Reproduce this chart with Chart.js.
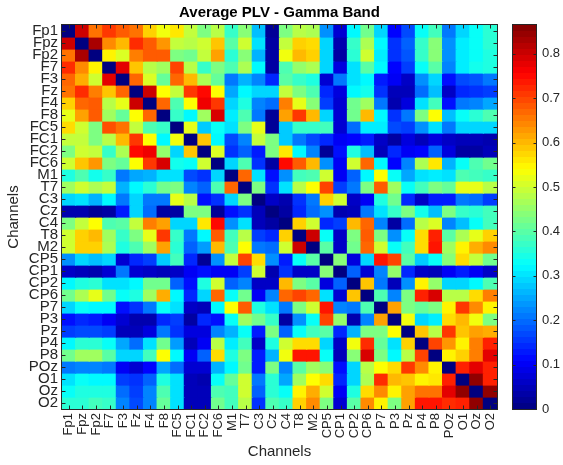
<!DOCTYPE html>
<html><head><meta charset="utf-8">
<script src="https://cdn.jsdelivr.net/npm/chart.js@4/dist/chart.umd.min.js"></script>
<style>
html,body{margin:0;padding:0;background:#fff;}
#wrap{position:relative;width:563px;height:465px;}
canvas{position:absolute;left:0;top:0;}
</style>
</head><body>
<div id="wrap"><canvas id="main" width="563" height="465"></canvas><canvas id="cbar" width="563" height="465"></canvas></div>
<script>
const CHANNELS = ['Fp1','Fpz','Fp2','F7','F3','Fz','F4','F8','FC5','FC1','FC2','FC6','M1','T7','C3','Cz','C4','T8','M2','CP5','CP1','CP2','CP6','P7','P3','Pz','P4','P8','POz','O1','Oz','O2'];

const row_Fp1 = [0,0.80,0.66,0.71,0.68,0.66,0.58,0.53,0.56,0.49,0.43,0.48,0.37,0.44,0.27,0.02,0.43,0.48,0.47,0.23,0.07,0.32,0.42,0.29,0.11,0.17,0.33,0.38,0.21,0.29,0.33,0.36];
const row_Fpz = [0.80,0,0.83,0.64,0.60,0.72,0.68,0.63,0.49,0.48,0.50,0.59,0.40,0.50,0.30,0.03,0.49,0.58,0.57,0.29,0.04,0.37,0.47,0.32,0.15,0.19,0.37,0.44,0.23,0.31,0.33,0.36];
const row_Fp2 = [0.66,0.83,0,0.55,0.51,0.65,0.68,0.68,0.43,0.42,0.49,0.62,0.36,0.44,0.26,0.03,0.53,0.60,0.58,0.29,0.03,0.36,0.50,0.31,0.15,0.18,0.37,0.44,0.23,0.31,0.33,0.35];
const row_F7  = [0.72,0.64,0.55,0,0.78,0.59,0.48,0.46,0.70,0.48,0.37,0.43,0.39,0.47,0.32,0.03,0.39,0.45,0.47,0.29,0.08,0.30,0.40,0.32,0.11,0.16,0.33,0.40,0.22,0.31,0.34,0.35];
const row_F3  = [0.67,0.61,0.50,0.78,0,0.67,0.51,0.41,0.67,0.60,0.47,0.41,0.21,0.26,0.22,0.14,0.40,0.37,0.35,0.07,0.21,0.30,0.32,0.13,0.10,0.06,0.23,0.29,0.12,0.17,0.18,0.21];
const row_Fz  = [0.66,0.72,0.65,0.59,0.67,0,0.80,0.54,0.49,0.71,0.75,0.54,0.25,0.32,0.29,0.29,0.49,0.43,0.39,0.14,0.08,0.32,0.34,0.15,0.05,0.05,0.20,0.27,0.06,0.14,0.15,0.16];
const row_F4  = [0.58,0.67,0.68,0.48,0.52,0.80,0,0.67,0.39,0.54,0.77,0.71,0.29,0.35,0.22,0.20,0.65,0.52,0.44,0.16,0.07,0.42,0.46,0.21,0.04,0.08,0.30,0.38,0.12,0.21,0.22,0.25];
const row_F8  = [0.52,0.62,0.68,0.46,0.41,0.54,0.67,0,0.37,0.32,0.46,0.79,0.31,0.39,0.21,0.02,0.62,0.71,0.60,0.29,0.07,0.42,0.60,0.32,0.15,0.21,0.43,0.54,0.27,0.33,0.36,0.39];
const row_FC5 = [0.57,0.50,0.43,0.69,0.66,0.49,0.39,0.37,0,0.52,0.28,0.33,0.30,0.43,0.52,0.02,0.28,0.37,0.37,0.38,0.07,0.20,0.31,0.31,0.17,0.16,0.23,0.30,0.21,0.29,0.29,0.29];
const row_FC1 = [0.49,0.49,0.43,0.48,0.60,0.71,0.54,0.32,0.53,0,0.59,0.32,0.17,0.22,0.49,0.43,0.28,0.21,0.17,0.14,0.10,0.11,0.13,0.06,0.03,0.08,0.05,0.08,0.06,0.05,0.05,0.04];
const row_FC2 = [0.43,0.50,0.49,0.37,0.47,0.75,0.77,0.45,0.29,0.59,0,0.51,0.15,0.19,0.13,0.43,0.56,0.32,0.22,0.02,0.12,0.35,0.27,0.05,0.14,0.10,0.11,0.19,0.08,0.03,0.03,0.05];
const row_FC6 = [0.50,0.59,0.63,0.43,0.41,0.54,0.71,0.79,0.34,0.33,0.50,0,0.29,0.39,0.15,0.03,0.75,0.68,0.60,0.23,0.10,0.50,0.67,0.32,0.11,0.22,0.47,0.56,0.26,0.33,0.39,0.42];
const row_M1  = [0.35,0.39,0.34,0.37,0.21,0.25,0.26,0.30,0.30,0.17,0.15,0.29,0,0.67,0.30,0.12,0.23,0.38,0.39,0.50,0.10,0.19,0.32,0.54,0.33,0.25,0.30,0.31,0.30,0.39,0.38,0.37];
const row_T7  = [0.46,0.50,0.47,0.49,0.26,0.32,0.36,0.42,0.43,0.22,0.19,0.39,0.67,0,0.43,0.15,0.30,0.48,0.54,0.70,0.16,0.21,0.43,0.68,0.46,0.33,0.38,0.43,0.41,0.52,0.52,0.48];
const row_C3  = [0.29,0.30,0.26,0.32,0.21,0.29,0.21,0.21,0.52,0.48,0.12,0.15,0.29,0.43,0,0.06,0.04,0.15,0.21,0.58,0.50,0.06,0.10,0.35,0.42,0.14,0.06,0.13,0.13,0.21,0.20,0.16];
const row_Cz  = [0.04,0.04,0.02,0.03,0.13,0.29,0.20,0.03,0.03,0.43,0.43,0.02,0.12,0.15,0.05,0,0.03,0.14,0.20,0.23,0.04,0.05,0.21,0.30,0.37,0.43,0.34,0.27,0.43,0.37,0.36,0.38];
const row_C4  = [0.43,0.49,0.54,0.39,0.40,0.49,0.65,0.62,0.29,0.29,0.56,0.75,0.23,0.30,0.05,0.03,0,0.58,0.50,0.14,0.16,0.60,0.67,0.22,0.03,0.20,0.48,0.51,0.22,0.27,0.33,0.38];
const row_T8  = [0.50,0.58,0.60,0.46,0.37,0.43,0.52,0.71,0.37,0.21,0.32,0.68,0.38,0.48,0.16,0.14,0.58,0,0.80,0.33,0.06,0.43,0.68,0.43,0.23,0.33,0.57,0.73,0.40,0.47,0.52,0.58];
const row_M2  = [0.50,0.58,0.58,0.47,0.35,0.39,0.46,0.62,0.36,0.19,0.24,0.60,0.39,0.54,0.21,0.20,0.50,0.80,0,0.40,0.06,0.42,0.67,0.50,0.33,0.38,0.57,0.74,0.46,0.55,0.61,0.64];
const row_CP5 = [0.23,0.29,0.27,0.29,0.07,0.14,0.16,0.28,0.38,0.14,0.02,0.23,0.49,0.70,0.57,0.23,0.13,0.33,0.40,0,0.44,0.08,0.29,0.74,0.70,0.40,0.28,0.33,0.44,0.57,0.49,0.42];
const row_CP1 = [0.06,0.05,0.04,0.07,0.21,0.07,0.06,0.05,0.06,0.10,0.12,0.10,0.10,0.16,0.50,0.04,0.15,0.06,0.06,0.44,0,0.19,0.07,0.22,0.45,0.14,0.06,0.05,0.10,0.13,0.10,0.06];
const row_CP2 = [0.32,0.35,0.36,0.30,0.30,0.32,0.42,0.42,0.19,0.12,0.35,0.50,0.19,0.22,0.06,0.06,0.60,0.43,0.40,0.08,0.19,0,0.59,0.21,0.05,0.23,0.55,0.45,0.29,0.29,0.32,0.39];
const row_CP6 = [0.42,0.47,0.52,0.42,0.33,0.35,0.46,0.61,0.32,0.14,0.29,0.67,0.33,0.42,0.10,0.22,0.67,0.70,0.67,0.30,0.07,0.59,0,0.39,0.22,0.43,0.73,0.79,0.48,0.48,0.57,0.65];
const row_P7  = [0.29,0.33,0.32,0.32,0.12,0.15,0.21,0.33,0.30,0.06,0.05,0.32,0.54,0.68,0.35,0.30,0.21,0.43,0.50,0.74,0.22,0.21,0.39,0,0.62,0.43,0.41,0.43,0.55,0.71,0.64,0.55];
const row_P3  = [0.12,0.14,0.13,0.10,0.07,0.04,0.04,0.14,0.16,0.03,0.14,0.12,0.33,0.46,0.42,0.37,0.03,0.23,0.33,0.70,0.45,0.04,0.22,0.62,0,0.53,0.29,0.31,0.57,0.60,0.53,0.43];
const row_Pz  = [0.16,0.17,0.17,0.16,0.05,0.05,0.08,0.21,0.15,0.08,0.08,0.22,0.26,0.33,0.13,0.43,0.19,0.33,0.38,0.40,0.14,0.26,0.43,0.43,0.54,0,0.59,0.48,0.71,0.59,0.62,0.61];
const row_P4  = [0.32,0.36,0.36,0.33,0.25,0.20,0.30,0.42,0.24,0.05,0.10,0.48,0.31,0.38,0.06,0.35,0.50,0.57,0.57,0.29,0.06,0.53,0.72,0.41,0.30,0.58,0,0.70,0.63,0.55,0.65,0.73];
const row_P8  = [0.42,0.46,0.46,0.40,0.29,0.29,0.38,0.54,0.32,0.10,0.19,0.57,0.35,0.43,0.13,0.26,0.53,0.74,0.74,0.33,0.05,0.44,0.79,0.43,0.32,0.48,0.70,0,0.55,0.58,0.65,0.78];
const row_POz = [0.21,0.22,0.22,0.21,0.10,0.07,0.11,0.25,0.20,0.07,0.07,0.26,0.32,0.42,0.13,0.43,0.22,0.40,0.46,0.44,0.12,0.29,0.48,0.54,0.57,0.71,0.64,0.55,0,0.73,0.78,0.73];
const row_O1  = [0.30,0.33,0.32,0.32,0.16,0.15,0.19,0.35,0.30,0.05,0.04,0.33,0.41,0.50,0.21,0.36,0.25,0.46,0.54,0.57,0.14,0.29,0.47,0.72,0.60,0.59,0.55,0.56,0.73,0,0.85,0.73];
const row_Oz  = [0.33,0.35,0.35,0.35,0.20,0.16,0.22,0.39,0.30,0.05,0.05,0.39,0.38,0.50,0.19,0.36,0.33,0.55,0.61,0.50,0.10,0.35,0.57,0.64,0.55,0.62,0.66,0.66,0.78,0.85,0,0.85];
const row_O2  = [0.36,0.36,0.38,0.37,0.22,0.17,0.22,0.41,0.30,0.05,0.05,0.42,0.38,0.48,0.15,0.39,0.37,0.58,0.64,0.43,0.07,0.40,0.64,0.55,0.43,0.62,0.74,0.74,0.72,0.73,0.85,0];

const PLV_ROWS = [row_Fp1,row_Fpz,row_Fp2,row_F7,row_F3,row_Fz,row_F4,row_F8,row_FC5,row_FC1,row_FC2,row_FC6,row_M1,row_T7,row_C3,row_Cz,row_C4,row_T8,row_M2,row_CP5,row_CP1,row_CP2,row_CP6,row_P7,row_P3,row_Pz,row_P4,row_P8,row_POz,row_O1,row_Oz,row_O2];

const CLIM = [0, 0.865];
const CBAR_TICKS = [0, 0.1, 0.2, 0.3, 0.4, 0.5, 0.6, 0.7, 0.8];
const TITLE = 'Average PLV - Gamma Band';
const X_TITLE = 'Channels';
const Y_TITLE = 'Channels';

const FONT = "'Liberation Sans', Arial, Helvetica, sans-serif";
const AXC = '#262626';

function clamp01(v){ return Math.max(0, Math.min(1, v)); }
function jet(t){
  t = clamp01(t);
  const r = clamp01(Math.min(4*t - 1.5, -4*t + 4.5));
  const g = clamp01(Math.min(4*t - 0.5, -4*t + 3.5));
  const b = clamp01(Math.min(4*t + 0.5, -4*t + 2.5));
  return 'rgb(' + Math.round(r*255) + ',' + Math.round(g*255) + ',' + Math.round(b*255) + ')';
}
function colorFor(v){ return jet((v - CLIM[0]) / (CLIM[1] - CLIM[0])); }

const datasets = PLV_ROWS.map((vals, r) => ({
  label: CHANNELS[r],
  data: vals.map((v, c) => ({ x: CHANNELS[c], y: [r, r + 1], v: v })),
  backgroundColor: ctx => colorFor(ctx.raw.v),
  borderWidth: 0,
  grouped: false,
  barPercentage: 1,
  categoryPercentage: 1,
  inflateAmount: 0.6
}));

const NOGRID = { display: false, drawTicks: false, tickLength: 0 };

const framePlugin = {
  id: 'frame',
  afterDraw(chart) {
    const { ctx, chartArea: a, scales } = chart;
    ctx.save();
    ctx.strokeStyle = AXC;
    ctx.lineWidth = 1;
    const L = Math.round(a.left) - 0.5, R = Math.round(a.right) + 0.5;
    const T = Math.round(a.top) - 0.5, B = Math.round(a.bottom) + 0.5;
    ctx.strokeRect(L, T, R - L, B - T);
    const tl = 4;
    ctx.beginPath();
    scales.x.ticks.forEach((t, i) => {
      const px = Math.round(scales.x.getPixelForTick(i)) + 0.5;
      ctx.moveTo(px, B); ctx.lineTo(px, B - tl);
      ctx.moveTo(px, T); ctx.lineTo(px, T + tl);
    });
    scales.y.ticks.forEach((t, i) => {
      const py = Math.round(scales.y.getPixelForValue(t.value)) + 0.5;
      ctx.moveTo(L, py); ctx.lineTo(L + tl, py);
      ctx.moveTo(R, py); ctx.lineTo(R - tl, py);
    });
    ctx.stroke();
    ctx.restore();
  }
};

new Chart(document.getElementById('main'), {
  type: 'bar',
  data: { labels: CHANNELS, datasets: datasets },
  options: {
    responsive: false,
    animation: false,
    layout: { padding: { left: 0, right: 66, top: 0, bottom: 0 }, autoPadding: false },
    plugins: {
      legend: { display: false },
      tooltip: { enabled: false },
      title: {
        display: true, text: TITLE, fullSize: false, color: '#000',
        font: { family: FONT, size: 15, weight: 'bold' },
        padding: { top: 4, bottom: 3 }
      }
    },
    scales: {
      x: {
        type: 'category', labels: CHANNELS, offset: true,
        grid: NOGRID, border: { display: false },
        ticks: { autoSkip: false, minRotation: 90, maxRotation: 90, padding: 4, color: AXC,
                 font: { family: FONT, size: 13 } },
        title: { display: true, text: X_TITLE, color: AXC, font: { family: FONT, size: 15 },
                 padding: { top: 0, bottom: 4 } },
        afterFit: s => { s.height = 56; }
      },
      y: {
        type: 'linear', min: 0, max: 32, reverse: true,
        grid: NOGRID, border: { display: false },
        afterBuildTicks: s => { s.ticks = CHANNELS.map((_, i) => ({ value: i + 0.5 })); },
        ticks: { autoSkip: false, padding: 4, color: AXC, font: { family: FONT, size: 15 },
                 callback: v => CHANNELS[Math.floor(v)] },
        title: { display: true, text: Y_TITLE, color: AXC, font: { family: FONT, size: 15 },
                 padding: { top: 5, bottom: 0 } },
        afterFit: s => { s.width = 62; }
      }
    }
  },
  plugins: [framePlugin]
});

const cbarFrame = {
  id: 'cbarFrame',
  afterDraw(chart) {
    const { ctx, chartArea: a, scales } = chart;
    ctx.save();
    ctx.strokeStyle = AXC;
    ctx.lineWidth = 1;
    const L = Math.round(a.left) - 0.5, R = Math.round(a.right) + 0.5;
    const T = Math.round(a.top) - 0.5, B = Math.round(a.bottom) + 0.5;
    ctx.strokeRect(L, T, R - L, B - T);
    ctx.beginPath();
    scales.y.ticks.forEach(t => {
      const py = Math.round(scales.y.getPixelForValue(t.value)) + 0.5;
      ctx.moveTo(L, py); ctx.lineTo(L + 3, py);
      ctx.moveTo(R, py); ctx.lineTo(R - 3, py);
    });
    ctx.stroke();
    ctx.restore();
  }
};

new Chart(document.getElementById('cbar'), {
  type: 'bar',
  data: {
    labels: ['PLV'],
    datasets: [{
      data: [[CLIM[0], CLIM[1]]],
      borderWidth: 0,
      barPercentage: 1,
      categoryPercentage: 1,
      backgroundColor: ctx => {
        const ca = ctx.chart.chartArea;
        if (!ca) return '#888';
        const g = ctx.chart.ctx.createLinearGradient(0, ca.bottom, 0, ca.top);
        const n = 64;
        for (let k = 0; k < n; k++) {
          const col = jet((k + 0.5) / n);
          g.addColorStop(k / n, col);
          g.addColorStop((k + 1) / n, col);
        }
        return g;
      }
    }]
  },
  options: {
    responsive: false,
    animation: false,
    layout: { padding: { left: 513, right: 0, top: 25, bottom: 56 }, autoPadding: false },
    plugins: { legend: { display: false }, tooltip: { enabled: false } },
    scales: {
      x: { display: false },
      y: {
        position: 'right', min: CLIM[0], max: CLIM[1],
        grid: NOGRID, border: { display: false },
        afterBuildTicks: s => { s.ticks = CBAR_TICKS.map(v => ({ value: v })); },
        ticks: { padding: 6, color: AXC, font: { family: FONT, size: 13 }, callback: v => String(v) },
        afterFit: s => { s.width = 27; }
      }
    }
  },
  plugins: [cbarFrame]
});
</script>
</body></html>
